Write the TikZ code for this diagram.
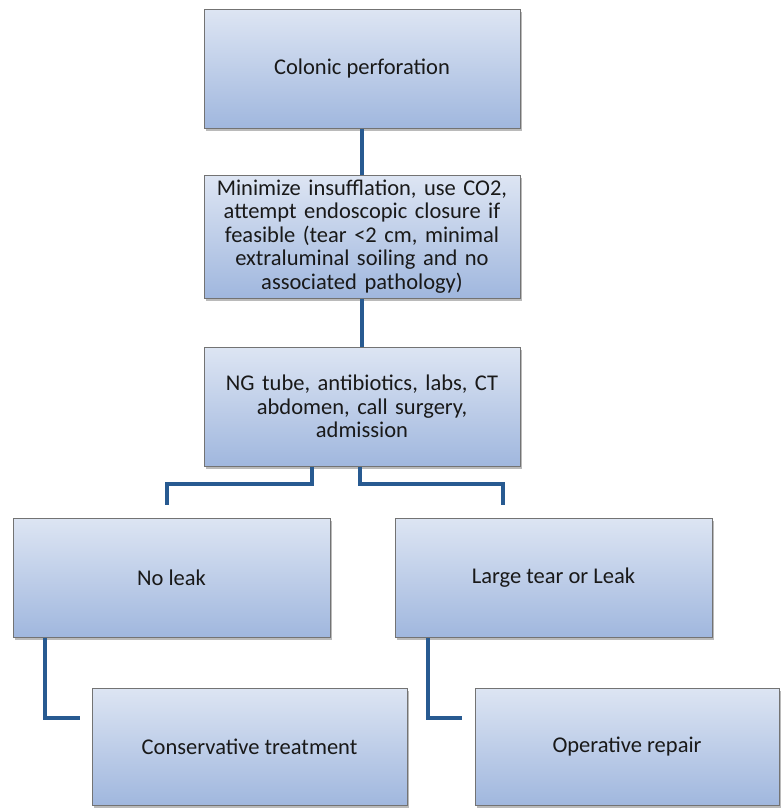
\documentclass[tikz,border=0pt]{standalone}
\usepackage{fontspec}
\setmainfont{Carlito}
\usetikzlibrary{shadows}
\definecolor{boxtop}{RGB}{221,229,243}
\definecolor{boxbot}{RGB}{160,183,222}
\definecolor{boxline}{RGB}{115,115,115}
\definecolor{conn}{RGB}{40,90,145}
\begin{document}
\begin{tikzpicture}[x=1pt,y=-1pt,
  box/.style={draw=boxline, line width=1pt, top color=boxtop, bottom color=boxbot,
    drop shadow={shadow xshift=2pt, shadow yshift=-2.5pt, opacity=0.45, fill=black!60},
    align=center, inner sep=4pt, text=black!90,
    font=\fontsize{22.5}{23.4}\selectfont},
  link/.style={draw=conn, line width=4pt}]
\useasboundingbox (0,0) rectangle (782,808);
\node[box, minimum width=316pt, minimum height=118pt] (b1) at (362,69) {Colonic perforation};
\node[box, minimum width=316pt, minimum height=123pt, text width=308pt] (b2) at (362,236.5)
  {Minimize insufflation, use CO2,\\ attempt endoscopic closure if\\ feasible (tear <2 cm, minimal\\ extraluminal soiling and no\\ associated pathology)};
\node[box, minimum width=316pt, minimum height=119pt, text width=308pt] (b3) at (362,406.5)
  {NG tube, antibiotics, labs, CT\\ abdomen, call surgery,\\ admission};
\node[box, minimum width=317pt, minimum height=119pt] (b4) at (171.5,577.5) {No leak};
\node[box, minimum width=317pt, minimum height=119pt] (b5) at (553.5,577.5) {Large tear or Leak};
\node[box, minimum width=315pt, minimum height=117pt] (b6) at (249.5,746.5) {Conservative treatment};
\node[box, minimum width=304pt, minimum height=117pt] (b7) at (627,746.5) {Operative repair};
\coordinate (l1) at (167,505);
\coordinate (r1) at (503,505);
\coordinate (c6) at (80,718);
\coordinate (c7) at (462,718);
\draw[link] (b1.south) -- (b2.north);
\draw[link] (b2.south) -- (b3.north);
\draw[link] ([xshift=-50pt]b3.south) -- ++(0,17) -| (l1);
\draw[link] ([xshift=-2pt]b3.south) -- ++(0,17) -| (r1);
\draw[link] ([xshift=32pt]b4.south west) |- (c6);
\draw[link] ([xshift=33pt]b5.south west) |- (c7);
\end{tikzpicture}
\end{document}
